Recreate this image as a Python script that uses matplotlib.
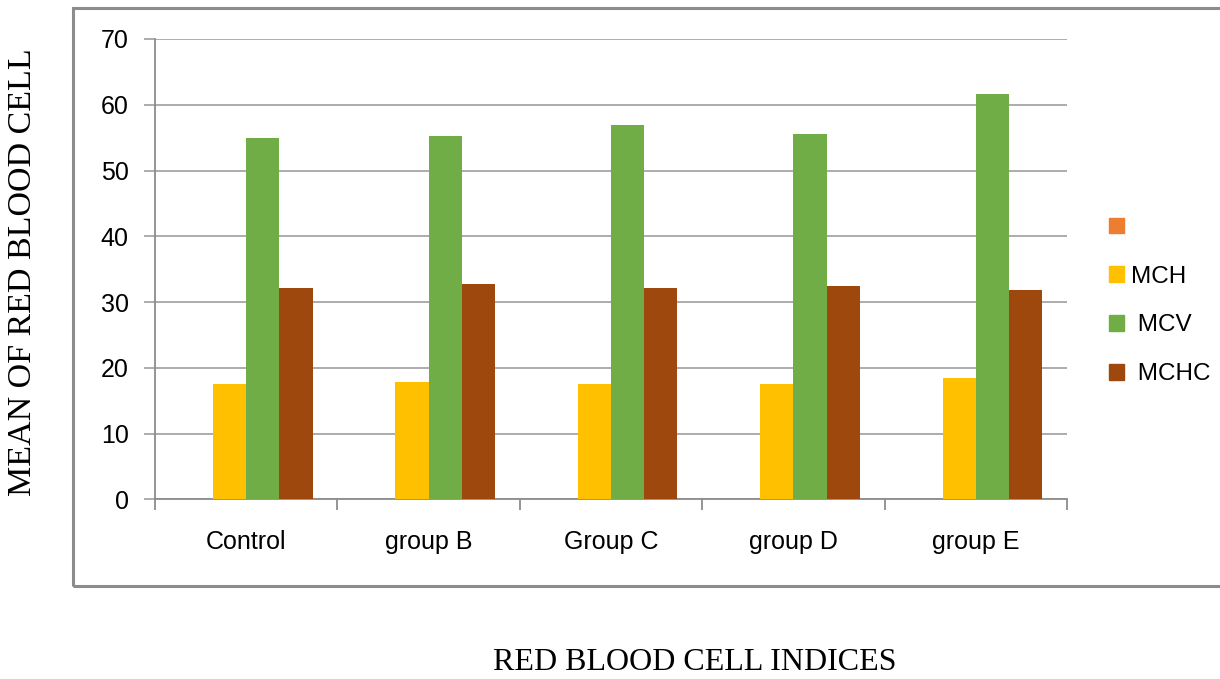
import matplotlib.pyplot as plt
import matplotlib.patches as mpatches
import numpy as np

categories = ["Control", "group B", "Group C", "group D", "group E"]
series_names = ["", "MCH", " MCV", " MCHC"]
blank = [0, 0, 0, 0, 0]
mch = [17.6, 17.8, 17.5, 17.6, 18.5]
mcv = [54.9, 55.3, 56.9, 55.5, 61.7]
mchc = [32.2, 32.7, 32.2, 32.4, 31.8]
colors = ["#ED7D31", "#FFC000", "#70AD47", "#9E480E"]
yticks = [0, 10, 20, 30, 40, 50, 60, 70]

W, H = 1220, 679
fig = plt.figure(figsize=(W / 100, H / 100), dpi=100)

def fx(px):
    return px / W

def fy(py):
    return 1 - py / H

# chart border
fig.patches.append(mpatches.Rectangle((fx(73), fy(586)), fx(1225) - fx(73), fy(8) - fy(586),
                                      transform=fig.transFigure, fill=False,
                                      edgecolor="#8c8c8c", linewidth=2.2))

ax = fig.add_axes([fx(155), fy(499.3), fx(1067) - fx(155), fy(39) - fy(499.3)])

x = np.arange(len(categories))
bw = 0.182
all_series = [blank, mch, mcv, mchc]
for i, (vals, c) in enumerate(zip(all_series, colors)):
    ax.bar(x + (i - 1.5) * bw, vals, width=bw, color=c, edgecolor="none", zorder=3)

ax.set_xlim(-0.5, len(categories) - 0.5)
ax.set_ylim(0, 70)
ax.set_yticks(yticks)
ax.set_yticklabels([str(t) for t in yticks])
ax.grid(axis="y", color="#a6a6a6", linewidth=1.3, zorder=0)
ax.set_axisbelow(True)

for s in ["top", "right"]:
    ax.spines[s].set_visible(False)
ax.spines["left"].set_color("#8c8c8c")
ax.spines["bottom"].set_color("#8c8c8c")
ax.spines["left"].set_linewidth(1.3)
ax.spines["bottom"].set_linewidth(1.3)

ax.set_xticks(x)
ax.set_xticklabels(categories)
ax.set_xticks(np.arange(-0.5, len(categories), 1.0), minor=True)
ax.tick_params(axis="x", which="major", length=0, pad=22)
ax.tick_params(axis="x", which="minor", length=8, color="#8c8c8c", width=1.3)
ax.tick_params(axis="y", length=8, color="#a6a6a6", width=1.3, pad=11)

tick_font = ["Liberation Sans", "DejaVu Sans"]
for lab in ax.get_xticklabels() + ax.get_yticklabels():
    lab.set_fontfamily(tick_font)
    lab.set_fontsize(18)

handles = [mpatches.Patch(color=c) for c in colors]
leg = ax.legend(handles, series_names, loc="upper left",
                bbox_to_anchor=(fx(1109), fy(217)), bbox_transform=fig.transFigure,
                frameon=False, handlelength=0.62, handleheight=0.62,
                handletextpad=0.3, labelspacing=1.1, borderpad=0, borderaxespad=0,
                prop={"family": tick_font, "size": 17.5})

serif = ["Liberation Serif", "DejaVu Serif"]
fig.text(fx(23), fy(272), "MEAN OF RED BLOOD CELL", rotation=90, ha="center", va="center",
         fontfamily=serif, fontsize=24.5)
fig.text(fx(695), fy(663), "RED BLOOD CELL INDICES", ha="center", va="center",
         fontfamily=serif, fontsize=23)

fig.savefig("out.png", dpi=100)
